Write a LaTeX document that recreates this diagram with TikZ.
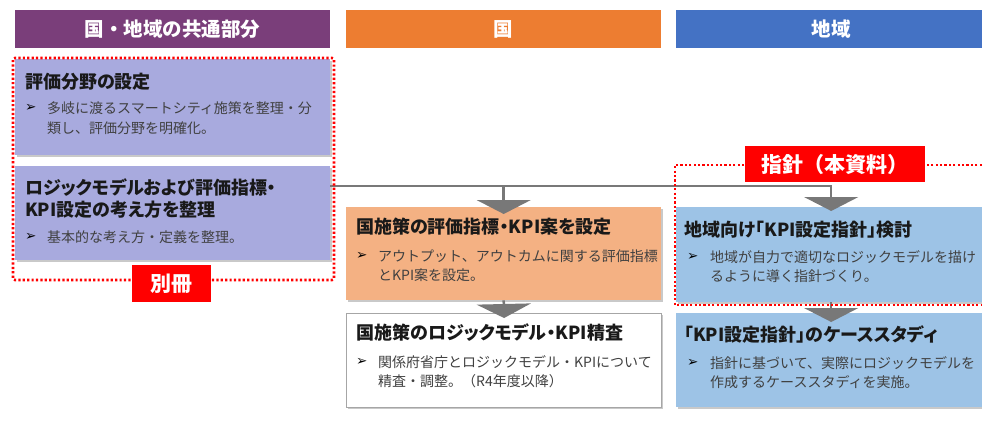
\documentclass[tikz,border=0pt]{standalone}
\usepackage{fontspec}
\setmainfont{Noto Sans CJK JP}
\newfontfamily\jpp{Noto Sans CJK JP}[RawFeature=+palt]
\newfontfamily\jpfull{Noto Sans CJK JP}
\newfontfamily\dv{DejaVu Sans}
\usetikzlibrary{arrows.meta,shadows}
\definecolor{hpurple}{RGB}{122,62,122}
\definecolor{horange}{RGB}{237,125,49}
\definecolor{hblue}{RGB}{68,114,196}
\definecolor{lav}{RGB}{168,170,222}
\definecolor{lorange}{RGB}{244,177,131}
\definecolor{lblue}{RGB}{157,195,230}
\definecolor{txtgray}{RGB}{64,64,64}
\definecolor{conngray}{RGB}{120,120,120}
\definecolor{boxborder}{RGB}{166,166,166}
\tikzset{
  hdr/.style={anchor=north west,inner sep=0pt,minimum height=38pt,text=white,
    font=\jpfull\bfseries\fontsize{19.5}{22}\selectfont},
  panel/.style={anchor=north west,inner sep=0pt,
    drop shadow={shadow xshift=1.5pt,shadow yshift=-1.5pt,opacity=.35,fill=black!60}},
  ttl/.style={anchor=west,inner sep=0pt,text=black!90,font=\jpp\bfseries\fontsize{18}{21}\selectfont},
  bul/.style={anchor=west,inner sep=0pt,text=txtgray,font=\fontsize{14}{16}\selectfont},
  bmark/.style={anchor=west,inner sep=0pt,text=black,font=\dv\fontsize{13.5}{15}\selectfont},
  conn/.style={draw=conngray,line width=2.5pt,-{Triangle[width=54pt,length=14pt]}},
  reddot/.style={draw=red,line width=2.6pt,dash pattern=on 2.2pt off 2.2pt},
  redlabel/.style={fill=red,text=white,inner sep=0pt,font=\bfseries\fontsize{21}{24}\selectfont}
}
\begin{document}
\begin{tikzpicture}[x=1pt,y=-1pt]
\useasboundingbox[fill=white] (0,0) rectangle (982,429);
% headers
\node[hdr,fill=hpurple,minimum width=315pt] (h1) at (15,10) {国・地域の共通部分};
\node[hdr,fill=horange,minimum width=315pt] (h2) at (346,10) {国};
\node[hdr,fill=hblue,minimum width=310pt] (h3) at (676,10) {地域};
% panels
\node[panel,fill=lav,minimum width=315pt,minimum height=96pt] (lav1) at (15,59) {};
\node[panel,fill=lav,minimum width=315pt,minimum height=94pt] (lav2) at (15,166) {};
\node[panel,fill=lorange,minimum width=315pt,minimum height=93pt] (ora) at (346,207) {};
\node[panel,fill=white,draw=boxborder,line width=1.2pt,minimum width=315pt,minimum height=94pt] (whi) at (346,313) {};
\node[panel,fill=lblue,minimum width=310pt,minimum height=95pt] (blu1) at (676,207) {};
\node[panel,fill=lblue,minimum width=310pt,minimum height=94pt] (blu2) at (676,313) {};
% texts: left 1
\node[ttl] (t1) at (25,82) {評価分野の設定};
\node[bmark] (m1) at (25,108) {➢};
\node[bul] (b1a) at (47,108) {多岐に渡るスマートシティ施策を整理・分};
\node[bul] (b1b) at (47,128) {類し、評価分野を明確化。};
% left 2
\node[ttl] (t2a) at (25,188) {ロジックモデルおよび評価指標・};
\node[ttl] (t2b) at (25,210) {KPI設定の考え方を整理};
\node[bmark] (m2) at (25,237) {➢};
\node[bul] (b2a) at (47,237) {基本的な考え方・定義を整理。};
% orange
\node[ttl] (t3) at (356,227) {国施策の評価指標・KPI案を設定};
\node[bmark] (m3) at (356,256) {➢};
\node[bul] (b3a) at (378,256) {アウトプット、アウトカムに関する評価指標};
\node[bul] (b3b) at (378,275) {とKPI案を設定。};
% white
\node[ttl] (t4) at (356,333) {国施策のロジックモデル・KPI精査};
\node[bmark] (m4) at (356,362) {➢};
\node[bul] (b4a) at (378,362) {関係府省庁とロジックモデル・KPIについて};
\node[bul] (b4b) at (378,381) {精査・調整。（R4年度以降）};
% blue 1
\node[ttl] (t5) at (684,230) {地域向け「KPI設定指針」検討};
\node[bmark] (m5) at (687,257) {➢};
\node[bul] (b5a) at (710,257) {地域が自力で適切なロジックモデルを描け};
\node[bul] (b5b) at (710,276) {るように導く指針づくり。};
% blue 2
\node[ttl] (t6) at (684,335) {「KPI設定指針」のケーススタディ};
\node[bmark] (m6) at (687,363) {➢};
\node[bul] (b6a) at (710,363) {指針に基づいて、実際にロジックモデルを};
\node[bul] (b6b) at (710,382) {作成するケーススタディを実施。};
% connectors
\coordinate (src) at (330,186);
\draw[conn] (src) -| ([yshift=-7pt]ora.north);
\draw[conn] (src) -| ([yshift=-4pt]blu1.north);
\draw[conn] (ora.south) -- ([yshift=-5pt]whi.north);
\draw[conn] (blu1.south) -- ([yshift=-9pt]blu2.north);
% dotted groups
\draw[reddot,rounded corners=2pt] (13,58) rectangle (334,280);
\draw[reddot] (995,165) -- (675,165) -- (675,305) -- (995,305);
% red labels
\node[redlabel,minimum width=79pt,minimum height=37pt,anchor=north west] (bessatsu) at (132,265) {別冊};
\node[redlabel,minimum width=180pt,minimum height=36pt,anchor=north west] (shishin) at (745,146) {指針（本資料）};
\end{tikzpicture}
\end{document}
